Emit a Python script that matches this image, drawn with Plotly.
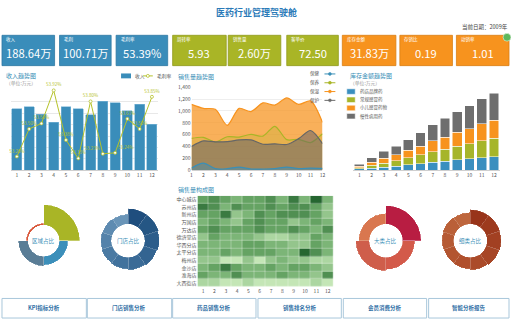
import plotly.graph_objects as go

W, H = 513, 322
def fx(x): return x / W
def fy(y): return 1 - y / H

FONT = "Noto Sans CJK SC"

# ---------------- data ----------------
month_nums = list(range(1, 13))
month_labels = [str(m) for m in month_nums]

kpi_labels = ["收入", "毛利", "毛利率", "周转率", "销售量", "客单价", "库存金额", "存销比", "动销率"]
kpi_values = ["188.64万", "100.71万", "53.39%", "5.93", "2.60万", "72.50", "31.83万", "0.19", "1.01"]

revenue = [16.2, 16.7, 14.7, 12.6, 16.7, 16.2, 14.6, 18.1, 17.8, 15.6, 17.3, 12.1]
margin = [53.20, 53.50, 53.56, 53.92, 53.38, 53.18, 53.80, 53.23, 53.24, 53.61, 53.50, 53.85]

area_names = ["保健", "保养", "保湿", "保护"]
area_blue = [38, 121, 27, 27, 55, 22, 22, 27, 55, 27, 38, 33]
area_green = [538, 555, 478, 565, 560, 604, 576, 741, 516, 521, 467, 615]
area_orange = [1109, 1043, 1027, 758, 1043, 988, 1136, 1098, 1219, 1109, 1169, 807]
area_gray = [401, 494, 478, 483, 511, 511, 439, 445, 434, 533, 670, 450]

stock_names = ["药店品牌药", "常规感冒药", "小儿感冒药物", "慢性病用药"]
stock_blue = [0.4, 0.7, 1.0, 1.3, 1.7, 2.0, 2.5, 2.8, 3.2, 3.5, 3.9, 4.2]
stock_green = [0.4, 0.8, 1.2, 1.7, 2.1, 2.7, 3.2, 3.7, 4.2, 4.7, 5.1, 5.6]
stock_orange = [0.4, 1.0, 1.5, 1.7, 2.3, 2.7, 3.3, 3.7, 4.3, 4.6, 5.2, 5.5]
stock_gray = [0.6, 1.3, 2.1, 2.7, 3.3, 4.1, 5.0, 5.8, 6.3, 7.0, 7.8, 8.3]

stores = ["中心城店", "苏州店", "新州店", "万国店", "万达店", "德济堂店",
          "华西分店", "太平分店", "梅州店", "金沙店", "淮海店", "大西街店"]
heat = [
    [6, 7, 6, 5, 6, 6, 7, 5, 8, 5, 9, 5],
    [8, 7, 5, 7, 6, 6, 7, 6, 7, 7, 6, 4],
    [6, 6, 8, 4, 5, 7, 6, 7, 7, 7, 6, 4],
    [5, 6, 5, 4, 6, 7, 6, 6, 4, 5, 6, 5],
    [6, 7, 6, 6, 6, 7, 6, 6, 7, 6, 5, 7],
    [4, 6, 5, 5, 5, 4, 3, 3, 4, 4, 6, 5],
    [5, 5, 5, 5, 6, 6, 5, 5, 4, 4, 6, 5],
    [5, 5, 6, 5, 6, 6, 6, 5, 5, 9, 7, 5],
    [4, 4, 2, 2, 4, 2, 4, 5, 4, 4, 3, 3],
    [5, 6, 8, 6, 5, 5, 6, 5, 6, 6, 5, 4],
    [6, 5, 5, 7, 5, 5, 5, 6, 5, 5, 4, 7],
    [3, 3, 2, 2, 3, 2, 2, 2, 2, 2, 3, 2],
]

region_r = [21, 9, 10, 2]
region_colors = ["#a9b526", "#3c8fba", "#5a7d96", "#d9573a"]
store_r = [16, 16, 15, 14, 13, 12, 11.5, 11, 10.5, 10]
store_colors = ["#1f4e7e", "#255684", "#2c5d8b", "#336491", "#3a6b97",
                "#41729d", "#4a7aa3", "#5482aa", "#5e8bb1", "#6a95b8"]
class_r = [19, 12.5, 14, 11]
class_colors = ["#b81d42", "#d35a4a", "#cf5e4b", "#d9774f"]
sub_r = [15, 15, 14.5, 14, 13, 12, 11.5, 12, 12.5, 12]
sub_colors = ["#98341a", "#9d3a1e", "#a24022", "#a74626", "#ab4b2a",
              "#b0502d", "#b35530", "#b65a34", "#ba6038", "#be663d"]
donut_titles = ["区域占比", "门店占比", "大类占比", "细类占比"]

buttons = ["KPI指标分析", "门店销售分析", "药品销售分析", "销售排名分析", "会员消费分析", "智能分析报告"]

# ---------------- figure ----------------
fig = go.Figure()

BLUE = "#3a8dba"
GREEN = "#a9b526"
ORANGE = "#f7931e"
GRAY = "#6e6e6e"
LINEG = "#b5c22a"

label_pos = ["top center"] * 12
label_pos[7] = "top left"
label_pos[8] = "top right"

# left: revenue bars + margin line
fig.add_trace(go.Bar(x=month_nums, y=revenue, marker=dict(color=BLUE, line=dict(color="#7db8d8", width=0.6)),
                     xaxis="x", yaxis="y", name="收入"))
fig.add_trace(go.Scatter(x=month_nums, y=margin, mode="lines+markers+text",
                         text=[f"{v:.2f}%" for v in margin], textposition=label_pos,
                         textfont=dict(size=4.5, color=LINEG, family=FONT),
                         line=dict(color=LINEG, width=1),
                         marker=dict(size=3, color="white", line=dict(color=LINEG, width=0.8)),
                         xaxis="x", yaxis="y2", cliponaxis=False, name="毛利率"))

# middle: overlapping areas
area_specs = [
    (area_orange, ORANGE, "rgba(247,150,35,0.75)"),
    (area_green, GREEN, "rgba(169,181,38,0.22)"),
    (area_gray, "#666666", "rgba(95,95,105,0.52)"),
    (area_blue, "#3a8fb7", "rgba(58,143,183,0.45)"),
]
for vals, lc, fc in area_specs:
    fig.add_trace(go.Scatter(x=month_nums, y=vals, mode="lines", fill="tozeroy",
                             line=dict(color=lc, width=1.2, shape="spline", smoothing=0.8),
                             fillcolor=fc, xaxis="x3", yaxis="y3"))

# right: stacked stock bars
for vals, c, n in [(stock_blue, "#3a8fbf", stock_names[0]), (stock_green, "#a6b52a", stock_names[1]),
                   (stock_orange, ORANGE, stock_names[2]), (stock_gray, GRAY, stock_names[3])]:
    fig.add_trace(go.Bar(x=month_nums, y=vals, marker=dict(color=c, line=dict(color="white", width=0.5)),
                         xaxis="x4", yaxis="y4", name=n))

# heatmap
fig.add_trace(go.Heatmap(x=month_nums, y=stores, z=heat, xaxis="x5", yaxis="y5",
                         colorscale=[[0, "#c4e6b6"], [0.5, "#70ad6c"], [1, "#256630"]],
                         showscale=False, xgap=0.3, ygap=0.3))

# donuts
def donut(rs, colors, sub, lc):
    n = len(rs)
    step = 360 / n
    fig.add_trace(go.Barpolar(r=rs, theta=[step / 2 + i * step for i in range(n)], width=[step] * n,
                              marker=dict(color=colors, line=dict(color=lc, width=0.5)),
                              subplot=sub))

donut(region_r, region_colors, "polar", "rgba(255,255,255,0.6)")
donut(store_r, store_colors, "polar2", "rgba(255,255,255,0.3)")
donut(class_r, class_colors, "polar3", "rgba(255,255,255,0.45)")
donut(sub_r, sub_colors, "polar4", "rgba(255,255,255,0.25)")

tickf = dict(size=5, color="#555", family=FONT)

def polar_layout(cx, cy, R, hole, rmax):
    return dict(domain=dict(x=[fx(cx - R), fx(cx + R)], y=[fy(cy + R), fy(cy - R)]),
                hole=hole, bgcolor="rgba(0,0,0,0)",
                radialaxis=dict(visible=False, range=[0, rmax]),
                angularaxis=dict(visible=False, rotation=90, direction="clockwise"))

fig.update_layout(
    width=W, height=H, margin=dict(l=0, r=0, t=0, b=0),
    paper_bgcolor="white", plot_bgcolor="white", showlegend=False,
    barmode="stack", bargap=0.19,
    font=dict(family=FONT),
    xaxis=dict(domain=[fx(9.8), fx(158.3)], range=[0.5, 12.5], tickvals=month_nums, ticktext=month_labels,
               tickfont=tickf, showgrid=False, zeroline=False, showline=True, linecolor="#cfcfcf",
               ticks="", anchor="y", fixedrange=True),
    yaxis=dict(domain=[fy(170), fy(88.3)], range=[0, 21], dtick=3, showticklabels=False,
               gridcolor="#e8e8e8", zeroline=False, anchor="x"),
    yaxis2=dict(overlaying="y", range=[53.05, 53.92], visible=False, anchor="x"),
    xaxis3=dict(domain=[fx(192), fx(324)], range=[1, 12], tickvals=month_nums, ticktext=month_labels,
                tickfont=tickf, showgrid=False, zeroline=False, showline=True, linecolor="#cfcfcf",
                ticks="", anchor="y3"),
    yaxis3=dict(domain=[fy(170), fy(85)], range=[0, 1400], tickvals=list(range(0, 1401, 200)),
                tickformat=",", tickfont=tickf, gridcolor="#eeeeee", zeroline=False, ticks="",
                anchor="x3"),
    xaxis4=dict(domain=[fx(355), fx(503)], range=[0.5, 12.5], tickvals=month_nums, ticktext=month_labels,
                tickfont=tickf, showgrid=False, zeroline=False, showline=True, linecolor="#cfcfcf",
                ticks="", anchor="y4"),
    yaxis4=dict(domain=[fy(170), fy(88)], range=[0, 24.6], visible=False, anchor="x4"),
    xaxis5=dict(domain=[fx(198), fx(335)], range=[0.5, 12.5], tickvals=month_nums, ticktext=month_labels,
                tickfont=tickf, showgrid=False, zeroline=False, ticks="", anchor="y5"),
    yaxis5=dict(domain=[fy(289), fy(196)], autorange="reversed", type="category", tickfont=tickf,
                showgrid=False, zeroline=False, ticks="", anchor="x5"),
    polar=polar_layout(43, 242, 37, 0.43, 21),
    polar2=polar_layout(128, 242, 33, 0.515, 16),
    polar3=polar_layout(388, 242, 36, 0.47, 19),
    polar4=polar_layout(473, 242, 32, 0.53, 15),
)

shapes = []
ann = []

def text(x, y, s, size, color, xanchor="left", bold=False):
    ann.append(dict(x=fx(x), y=fy(y), xref="paper", yref="paper", text=f"<b>{s}</b>" if bold else s,
                    showarrow=False, xanchor=xanchor, yanchor="middle",
                    font=dict(size=size, color=color, family=FONT)))

# title & date
text(257.5, 9, "医药行业管理驾驶舱", 9, "#2a7ab8", "center", True)
text(513, 24, "当前日期：2009年", 5.5, "#444", "right")

# KPI cards
card_x = [(1, 54), (59, 111), (116, 168), (173, 227), (229, 282), (288, 340), (344, 398), (402, 455), (459, 512)]
card_col = [BLUE] * 3 + [GREEN] * 3 + [ORANGE] * 3
card_edge = ["#2f79a3"] * 3 + ["#909b1d"] * 3 + ["#d97f14"] * 3
for (x0, x1), c, e, lab, val in zip(card_x, card_col, card_edge, kpi_labels, kpi_values):
    shapes.append(dict(type="rect", xref="paper", yref="paper", x0=fx(x0), x1=fx(x1), y0=fy(63), y1=fy(32),
                       fillcolor=c, line=dict(color=e, width=0.8)))
    text(x0 + 2.5, 36, lab, 4.5, "white")
    text((x0 + x1) / 2, 50.5, val, 11.2, "white", "center")

# green round icon
shapes.append(dict(type="circle", xref="paper", yref="paper", x0=fx(506), x1=fx(514), y0=fy(38), y1=fy(30),
                   fillcolor="#5cb85c", line=dict(color="white", width=0.5)))

# left chart title & legend
text(3, 73, "收入趋势图", 6, "#3a8fb7")
text(3, 80.5, "（单位:万元）", 4.8, "#999")
shapes.append(dict(type="rect", xref="paper", yref="paper", x0=fx(121), x1=fx(131), y0=fy(76), y1=fy(71),
                   fillcolor=BLUE, line=dict(width=0)))
text(133, 73.5, "收入", 4.8, "#555")
shapes.append(dict(type="line", xref="paper", yref="paper", x0=fx(143), x1=fx(153), y0=fy(73.5), y1=fy(73.5),
                   line=dict(color=LINEG, width=1)))
shapes.append(dict(type="circle", xref="paper", yref="paper", x0=fx(146.5), x1=fx(149.5), y0=fy(75), y1=fy(72),
                   fillcolor="white", line=dict(color=LINEG, width=0.8)))
text(155, 73.5, "毛利率", 4.8, "#555")

# area chart title & legend
text(176, 74, "销售量趋势图", 6, "#3a8fb7")
for i, (n, c) in enumerate(zip(area_names, ["#3a8fb7", GREEN, ORANGE, "#6b6b6b"])):
    yy = 71.5 + i * 9
    text(324, yy, n, 4.5, "#555", "right")
    shapes.append(dict(type="line", xref="paper", yref="paper", x0=fx(326), x1=fx(337), y0=fy(yy), y1=fy(yy),
                       line=dict(color=c, width=1)))
    shapes.append(dict(type="circle", xref="paper", yref="paper", x0=fx(330), x1=fx(333), y0=fy(yy + 1.5),
                       y1=fy(yy - 1.5), fillcolor=c, line=dict(color=c, width=0.5)))

# stock chart title & legend
text(350, 73.5, "库存金额趋势图", 6, "#3a8fb7")
text(350, 80.5, "（单位:万元）", 4.8, "#999")
for i, (n, c) in enumerate(zip(stock_names, ["#3a8fbf", "#a6b52a", ORANGE, GRAY])):
    yy = 89.5 + i * 8.4
    shapes.append(dict(type="rect", xref="paper", yref="paper", x0=fx(348.5), x1=fx(357), y0=fy(yy + 2.8),
                       y1=fy(yy - 2.8), fillcolor=c, line=dict(color="white", width=0.5)))
    text(359.5, yy, n, 4.5, "#555")

# heatmap title
text(176, 190, "销售量构成图", 6, "#3a8fb7")

# donut center labels
for (cx, cy), t in zip([(43, 242), (128, 242), (388, 242), (473, 242)], donut_titles):
    text(cx, cy, t, 5.5, "#3a8fb7", "center")

# bottom buttons
btn_x = [(1, 86), (87, 172), (173, 257), (259, 343), (345, 429), (431, 512)]
for (x0, x1), b in zip(btn_x, buttons):
    shapes.append(dict(type="rect", xref="paper", yref="paper", x0=fx(x0), x1=fx(x1), y0=fy(321), y1=fy(301),
                       fillcolor="white", line=dict(color="#a9c7db", width=1)))
    text((x0 + x1) / 2, 311, b, 5.5, "#2f6fa5", "center", True)

fig.update_layout(shapes=shapes, annotations=ann)
fig.write_html("out.html")
